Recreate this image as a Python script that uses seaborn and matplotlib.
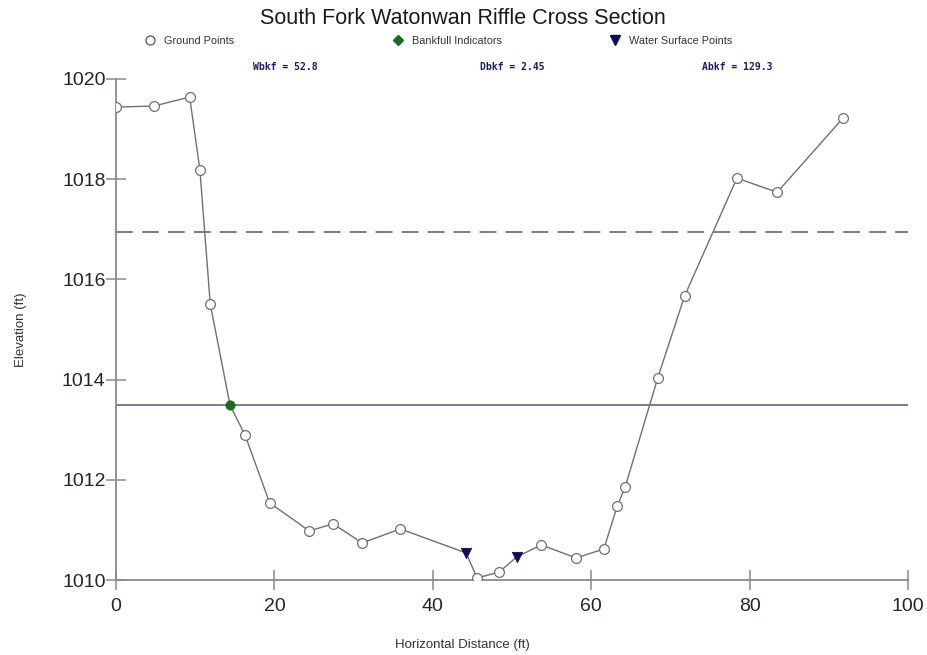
import matplotlib
matplotlib.use("Agg")
import matplotlib.pyplot as plt
from matplotlib.lines import Line2D
import seaborn as sns
import pandas as pd

# Surveyed cross-section: station (ft) and elevation (ft)
station = [0.0, 4.8, 9.3, 10.6, 11.9, 14.4, 16.3, 19.4, 24.4, 27.4, 31.1, 35.9, 44.2,
           45.6, 48.4, 50.6, 53.7, 58.1, 61.6, 63.3, 64.3, 68.4, 71.8, 78.4, 83.5, 91.8]
elevation = [1019.44, 1019.46, 1019.64, 1018.18, 1015.51, 1013.49, 1012.89, 1011.54,
             1010.98, 1011.12, 1010.74, 1011.02, 1010.54, 1010.04, 1010.16, 1010.46,
             1010.70, 1010.44, 1010.62, 1011.48, 1011.86, 1014.03, 1015.67, 1018.02,
             1017.74, 1019.22]
point_type = (["ground"] * 5 + ["bankfull"] + ["ground"] * 6 + ["water"] +
              ["ground"] * 2 + ["water"] + ["ground"] * 10)

# Summary statistics shown above the plot
stat_labels = ["Wbkf = 52.8", "Dbkf = 2.45", "Abkf = 129.3"]

df = pd.DataFrame({"station": station, "elevation": elevation, "type": point_type})

bankfull_elev = df.loc[df["type"] == "bankfull", "elevation"].iloc[0]
max_depth = bankfull_elev - df["elevation"].min()
flood_prone_elev = bankfull_elev + max_depth

sns.set_theme(style="white")
plt.rcParams["font.family"] = ["Liberation Sans", "DejaVu Sans"]

fig = plt.figure(figsize=(9.28, 6.55), dpi=100)
ax = fig.add_axes([0.125, 0.1145, 0.8534, 0.7649])

line_grey = "#707070"
level_col = "#55557f"
tick_col = "#1f2a1f"

# Bankfull and flood-prone elevations
ax.axhline(bankfull_elev, color=level_col, lw=1.1, zorder=1)
ax.axhline(flood_prone_elev, color=level_col, lw=1.1, dashes=(11, 6), zorder=1)

# Ground profile
sns.lineplot(data=df, x="station", y="elevation", sort=False, color=line_grey,
             lw=1.0, ax=ax, zorder=2, legend=False)

ground = df[df["type"] == "ground"]
bank = df[df["type"] == "bankfull"]
water = df[df["type"] == "water"]

sns.scatterplot(data=ground, x="station", y="elevation", ax=ax, marker="o", s=50,
                facecolor="white", edgecolor=line_grey, linewidth=0.9, zorder=3,
                legend=False)
sns.scatterplot(data=bank, x="station", y="elevation", ax=ax, marker="o", s=45,
                color="#1d6b1d", edgecolor="#1d6b1d", zorder=4, legend=False)
sns.scatterplot(data=water, x="station", y="elevation", ax=ax, marker="v", s=55,
                color="#0d0d5c", edgecolor="#0d0d5c", zorder=4, legend=False)

ax.set_xlim(0, 100)
ax.set_ylim(1010, 1020)
ax.set_xticks([0, 20, 40, 60, 80, 100])
ax.set_yticks([1010, 1012, 1014, 1016, 1018, 1020])

for side in ["top", "right"]:
    ax.spines[side].set_visible(False)
for side in ["left", "bottom"]:
    ax.spines[side].set_color("#8a8a8a")
    ax.spines[side].set_linewidth(1.3)

ax.tick_params(axis="both", direction="inout", length=15, width=1.1,
               color="#8a8a8a", labelsize=14, labelcolor=tick_col,
               bottom=True, left=True)
ax.tick_params(axis="y", pad=0)
ax.tick_params(axis="x", pad=5.5)

ax.set_xlabel("Horizontal Distance (ft)", fontsize=9.5, color="#333333")
ax.set_ylabel("Elevation (ft)", fontsize=9.5, color="#333333")
ax.xaxis.set_label_coords(0.437, -0.117)
ax.yaxis.set_label_coords(-0.113, 0.499)

fig.text(0.499, 0.972, "South Fork Watonwan Riffle Cross Section", ha="center",
         va="center", fontsize=15.5, color="#1a1a1a")

# Legend entries laid out across the top
legend_items = [
    ("Ground Points", Line2D([], [], ls="none", marker="o", ms=6.5, mfc="white",
                             mec="#555555", mew=0.9), 0.156),
    ("Bankfull Indicators", Line2D([], [], ls="none", marker="D", ms=5,
                                   color="#1d6b1d"), 0.4233),
    ("Water Surface Points", Line2D([], [], ls="none", marker="v", ms=7,
                                    color="#0d0d5c"), 0.657),
]
for label, handle, xpos in legend_items:
    fig.legend([handle], [label], loc="center left", bbox_to_anchor=(xpos, 0.9374),
               frameon=False, fontsize=7.8, handlelength=1.0, handletextpad=0.75,
               borderpad=0, borderaxespad=0, labelcolor="#333333")

for label, xpos in zip(stat_labels, [0.307, 0.552, 0.794]):
    fig.text(xpos, 0.8977, label, ha="center", va="center", fontsize=7,
             family="DejaVu Sans Mono", weight="bold", color="#1a1a6e")

fig.savefig("out.png", dpi=100)
